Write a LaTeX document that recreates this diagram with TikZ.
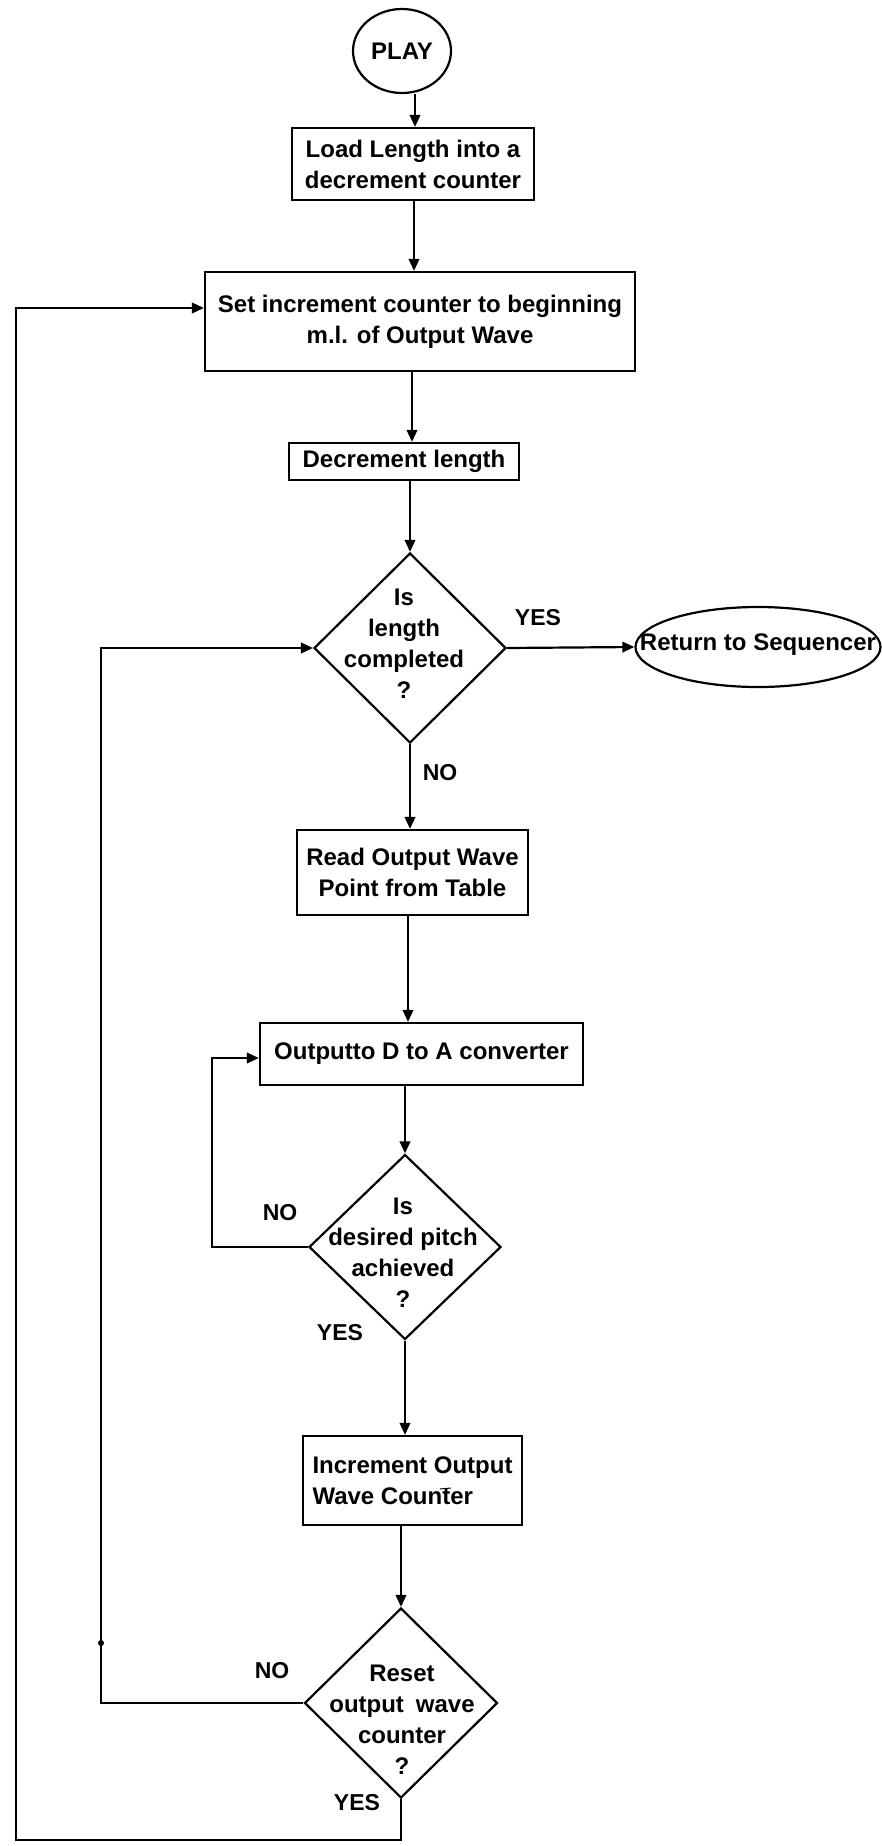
\documentclass[tikz,border=0pt]{standalone}
\usepackage{fontspec}
\setmainfont{Liberation Sans}
\usetikzlibrary{shapes.geometric,arrows.meta}
\newcommand\flowfont{\bfseries\fontsize{24}{31}\selectfont}
\begin{document}
\begin{tikzpicture}[x=1pt,y=-1pt,line width=2.2pt,
  box/.style={draw,rectangle,inner sep=0pt,align=center,font=\flowfont},
  decision/.style={draw,diamond,inner sep=0pt},
  txt/.style={inner sep=0pt,align=center,font=\flowfont},
  lbl/.style={inner sep=0pt,font=\bfseries\fontsize{23}{28}\selectfont},
  arr/.style={-{Triangle[length=12pt,width=10.5pt]}}]
\useasboundingbox[fill=white] (0,0) rectangle (882,1846);

% process steps
\node[draw,ellipse,inner sep=0pt,minimum width=98pt,minimum height=84pt,font=\flowfont] (play) at (402,51) {PLAY};
\node[box,minimum width=242pt,minimum height=72pt] (load) at (413,164) {Load Length into a\\decrement counter};
\node[box,minimum width=430pt,minimum height=99pt] (set) at (420,321.5) {Set increment counter to beginning\\m.l. of Output Wave};
\node[box,minimum width=230pt,minimum height=37pt] (dec) at (404,461.5) {Decrement length};

\node[decision,minimum width=192pt,minimum height=190pt] (d1) at (410,648) {};
\node[txt] (d1t) at (404,644) {Is\\length\\completed\\?};

\node[draw,ellipse,inner sep=0pt,minimum width=245pt,minimum height=80pt] (ret) at (758,647) {};
\node[txt] (rett) at (758,645) {Return to Sequencer};

\node[box,minimum width=231pt,minimum height=85pt] (read) at (412.5,872.5) {Read Output Wave\\Point from Table};
\node[box,minimum width=323pt,minimum height=62pt] (out) at (421.5,1054) {Outputto D to A converter};

\node[decision,minimum width=192pt,minimum height=185pt] (d2) at (405,1247) {};
\node[txt] (d2t) at (403,1253) {Is\\desired pitch\\achieved\\?};

\node[box,align=left,minimum width=219pt,minimum height=89pt] (inc) at (412.5,1480.5) {Increment Output\\Wave Counter};
\draw[line width=1pt] (440,1489) -- (451,1488);

\node[decision,minimum width=193pt,minimum height=190pt] (d3) at (401,1703) {};
\node[txt] (d3t) at (402,1720) {Reset\\output\enspace wave\\counter\\?};

% branch labels
\node[lbl] (y1) at (538,618) {YES};
\node[lbl] (n1) at (440,773) {NO};
\node[lbl] (n2) at (280,1213) {NO};
\node[lbl] (y2) at (340,1333) {YES};
\node[lbl] (n3) at (272,1671) {NO};
\node[lbl] (y3) at (357,1803) {YES};

% column and loop guide points
\coordinate (c1) at (415,0);
\coordinate (c2) at (414,0);
\coordinate (c3) at (412,0);
\coordinate (c6) at (408,0);
\coordinate (lp2) at (212,0);
\coordinate (lp3) at (101,0);
\coordinate (bl) at (16,1840);

% main flow
\draw[arr] (play.south -| c1) -- (load.north -| c1);
\draw[arr] (load.south -| c2) -- (set.north -| c2);
\draw[arr] (set.south -| c3) -- (dec.north -| c3);
\draw[arr] (dec.south -| d1.north) -- (d1.north);
\draw[arr] (d1.east) -- (ret.west);
\draw[arr] (d1.south) -- (read.north -| d1.south);
\draw[arr] (read.south -| c6) -- (out.north -| c6);
\draw[arr] (out.south -| d2.north) -- (d2.north);
\draw[arr] (d2.south) -- (inc.north -| d2.south);
\draw[arr] (inc.south -| d3.north) -- (d3.north);

% loops back
\draw[arr] (d2.west) -- (d2.west -| lp2) |- ([yshift=-4pt]out.west);
\draw[arr] (d3.west) -- (d3.west -| lp3) |- (d1.west);
\fill (101,1643) circle (3pt);
\draw[arr] (d3.south) |- (bl) |- ([yshift=13.5pt]set.west);
\end{tikzpicture}
\end{document}
